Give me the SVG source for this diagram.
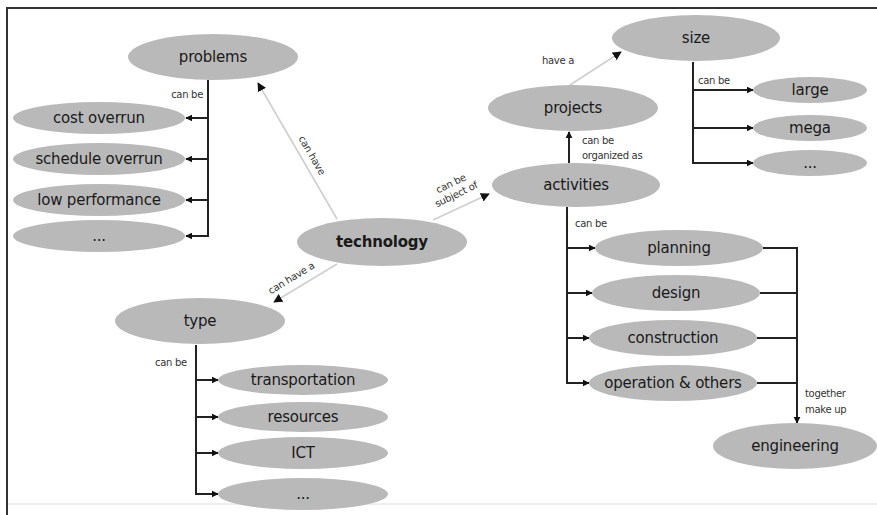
<svg xmlns="http://www.w3.org/2000/svg" width="877" height="515" viewBox="0 0 877 515">
<defs>
<style>
.n ellipse{fill:#b9b9b9;stroke:none}
.n text{font-family:"DejaVu Sans","Liberation Sans",sans-serif;font-size:15px;fill:#1a1a1a;text-anchor:middle;letter-spacing:-0.2px}
.b{fill:none;stroke:#222;stroke-width:2}
.g{fill:none;stroke:#cfcfcf;stroke-width:1.6}
.l{font-family:"DejaVu Sans","Liberation Sans",sans-serif;font-size:10px;fill:#333;letter-spacing:-0.3px}
</style>
<marker id="a" viewBox="0 0 10 10" refX="9" refY="5" markerWidth="7" markerHeight="7" markerUnits="userSpaceOnUse" orient="auto">
<path d="M0,0 L10,5 L0,10 z" fill="#111"/>
</marker>
<marker id="ag" viewBox="0 0 10 10" refX="9" refY="5" markerWidth="9" markerHeight="9" markerUnits="userSpaceOnUse" orient="auto">
<path d="M0,0 L10,5 L0,10 z" fill="#111"/>
</marker>
</defs>
<rect width="877" height="515" fill="#fff"/>
<path d="M7,515 V8 H877" fill="none" stroke="#333" stroke-width="2"/>
<path d="M8,504 H877" stroke="#eee" stroke-width="2"/>

<g id="connectors">
<path class="g" d="M337,219 L258,83" marker-end="url(#ag)"/>
<path class="g" d="M337,264 L274,302" marker-end="url(#ag)"/>
<path class="g" d="M433,220 L489,194" marker-end="url(#ag)"/>
<path class="g" d="M570,85 L621,52" marker-end="url(#ag)"/>
<path class="b" d="M208,80 V237"/>
<path class="b" d="M208,118 H186" marker-end="url(#a)"/>
<path class="b" d="M208,159 H186" marker-end="url(#a)"/>
<path class="b" d="M208,200 H186" marker-end="url(#a)"/>
<path class="b" d="M209,236 H186" marker-end="url(#a)"/>
<path class="b" d="M196,345 V495"/>
<path class="b" d="M195,380 H218" marker-end="url(#a)"/>
<path class="b" d="M195,417 H218" marker-end="url(#a)"/>
<path class="b" d="M195,453 H218" marker-end="url(#a)"/>
<path class="b" d="M195,494 H218" marker-end="url(#a)"/>
<path class="b" d="M693,62 V164"/>
<path class="b" d="M692,90 H753" marker-end="url(#a)"/>
<path class="b" d="M692,128 H753" marker-end="url(#a)"/>
<path class="b" d="M692,163 H753" marker-end="url(#a)"/>
<path class="b" d="M569,163 V132" marker-end="url(#a)"/>
<path class="b" d="M567,207 V384"/>
<path class="b" d="M566,248 H595" marker-end="url(#a)"/>
<path class="b" d="M566,293 H592" marker-end="url(#a)"/>
<path class="b" d="M566,338 H589" marker-end="url(#a)"/>
<path class="b" d="M566,383 H589" marker-end="url(#a)"/>
<path class="b" d="M763,248 H797 V423" marker-end="url(#a)"/>
<path class="b" d="M760,293 H797"/>
<path class="b" d="M757,338 H797"/>
<path class="b" d="M757,383 H797"/>
<text class="l" x="203" y="98" text-anchor="end">can be</text>
<text class="l" transform="translate(309,157) rotate(60)" text-anchor="middle">can have</text>
<text class="l" transform="translate(293,281) rotate(-31)" text-anchor="middle">can have a</text>
<text class="l" transform="translate(455,192) rotate(-26)" text-anchor="middle"><tspan x="0" y="-6">can be</tspan><tspan x="0" y="6">subject of</tspan></text>
<text class="l" x="542" y="64">have a</text>
<text class="l" x="698" y="84">can be</text>
<text class="l" x="582" y="144">can be</text>
<text class="l" x="582" y="159">organized as</text>
<text class="l" x="575" y="227">can be</text>
<text class="l" x="155" y="366">can be</text>
<text class="l" x="805" y="397">together</text>
<text class="l" x="805" y="413">make up</text>
</g>

<g id="problems" class="n"><ellipse cx="213" cy="57" rx="85" ry="23"/><text x="213" y="62">problems</text></g>
<g id="cost-overrun" class="n"><ellipse cx="99" cy="118" rx="86" ry="16"/><text x="99" y="123">cost overrun</text></g>
<g id="schedule-overrun" class="n"><ellipse cx="99" cy="159" rx="86" ry="16"/><text x="99" y="164">schedule overrun</text></g>
<g id="low-performance" class="n"><ellipse cx="99" cy="200" rx="86" ry="16"/><text x="99" y="205">low performance</text></g>
<g id="problems-more" class="n"><ellipse cx="99" cy="236" rx="86" ry="16"/><text x="99" y="241">...</text></g>
<g id="technology" class="n"><ellipse cx="382" cy="242" rx="85" ry="24"/><text x="382" y="247" font-weight="bold">technology</text></g>
<g id="type" class="n"><ellipse cx="200" cy="321" rx="85" ry="23"/><text x="200" y="326">type</text></g>
<g id="transportation" class="n"><ellipse cx="303" cy="380" rx="85" ry="15"/><text x="303" y="385">transportation</text></g>
<g id="resources" class="n"><ellipse cx="303" cy="417" rx="85" ry="15"/><text x="303" y="422">resources</text></g>
<g id="ict" class="n"><ellipse cx="303" cy="453" rx="85" ry="16"/><text x="303" y="458">ICT</text></g>
<g id="type-more" class="n"><ellipse cx="303" cy="494" rx="85" ry="16"/><text x="303" y="499">...</text></g>
<g id="size" class="n"><ellipse cx="696" cy="38" rx="84" ry="23"/><text x="696" y="43">size</text></g>
<g id="projects" class="n"><ellipse cx="573" cy="108" rx="85" ry="23"/><text x="573" y="113">projects</text></g>
<g id="activities" class="n"><ellipse cx="576" cy="185" rx="84" ry="22"/><text x="576" y="190">activities</text></g>
<g id="large" class="n"><ellipse cx="810" cy="90" rx="57" ry="13"/><text x="810" y="95">large</text></g>
<g id="mega" class="n"><ellipse cx="810" cy="128" rx="57" ry="13"/><text x="810" y="133">mega</text></g>
<g id="size-more" class="n"><ellipse cx="810" cy="163" rx="57" ry="13"/><text x="810" y="168">...</text></g>
<g id="planning" class="n"><ellipse cx="679" cy="248" rx="84" ry="18"/><text x="679" y="253">planning</text></g>
<g id="design" class="n"><ellipse cx="676" cy="293" rx="84" ry="18"/><text x="676" y="298">design</text></g>
<g id="construction" class="n"><ellipse cx="673" cy="338" rx="84" ry="18"/><text x="673" y="343">construction</text></g>
<g id="operation" class="n"><ellipse cx="673" cy="383" rx="84" ry="18"/><text x="673" y="388">operation &amp; others</text></g>
<g id="engineering" class="n"><ellipse cx="795" cy="446" rx="82" ry="23"/><text x="795" y="451">engineering</text></g>
</svg>
